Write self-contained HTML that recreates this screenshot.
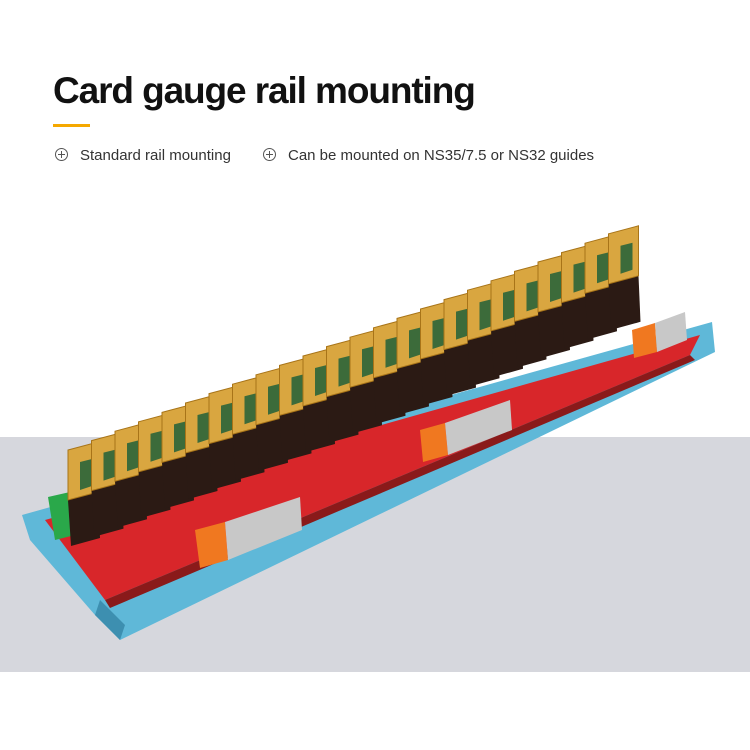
<!DOCTYPE html>
<html><head><style>
body{margin:0;width:750px;height:750px;background:#fff;position:relative;overflow:hidden;font-family:"Liberation Sans",sans-serif}
.band{position:absolute;left:0;top:437px;width:750px;height:235px;background:#d6d7dd}
h1{position:absolute;left:53px;top:70px;margin:0;font-size:37px;font-weight:900;letter-spacing:-1.1px;color:#111}
.ul{position:absolute;left:53px;top:124px;width:37px;height:3px;background:#f5a800}
.b{position:absolute;top:147px;font-size:15px;color:#333}
.c{display:inline-block;width:11px;height:11px;border:1px solid #555;border-radius:50%;position:relative;vertical-align:-1px;margin-right:12px}
.c:before{content:"";position:absolute;left:2px;top:5px;width:7px;height:1px;background:#555}
.c:after{content:"";position:absolute;left:5px;top:2px;width:1px;height:7px;background:#555}
svg{position:absolute;left:0;top:0}
</style></head><body>
<div class="band"></div>
<h1>Card gauge rail mounting</h1>
<div class="ul"></div>
<div class="b" style="left:55px"><span class="c"></span>Standard rail mounting</div>
<div class="b" style="left:263px"><span class="c"></span>Can be mounted on NS35/7.5 or NS32 guides</div>
<svg width="750" height="750">
<defs>
<g id="rl">
<polygon points="0,50 30,42 32,88 3,96" fill="#2b1a14"/>
<polygon points="0,0 30,-8 30,42 0,50" fill="#d9a640" stroke="#a87418" stroke-width="1"/>
<polygon points="12,12 24,9 24,36 12,40" fill="#3c6b3a"/>
</g>
</defs>
<polygon points="22,515 712,322 715,352 120,640 95,615 30,540" fill="#5fb8d8"/>
<polygon points="95,615 120,640 125,625 100,600" fill="#3d8fb0"/>
<polygon points="45,520 700,335 690,355 105,600" fill="#d8262a"/>
<polygon points="105,600 690,355 695,360 110,608" fill="#8a1a1a"/>
<polygon points="48,497 70,492 75,535 55,540" fill="#2aa84a"/>
<use href="#rl" transform="translate(68,450)"/>
<use href="#rl" transform="translate(91.5,440.6)"/>
<use href="#rl" transform="translate(115,431.2)"/>
<use href="#rl" transform="translate(138.5,421.8)"/>
<use href="#rl" transform="translate(162,412.4)"/>
<use href="#rl" transform="translate(185.5,403)"/>
<use href="#rl" transform="translate(209,393.6)"/>
<use href="#rl" transform="translate(232.5,384.2)"/>
<use href="#rl" transform="translate(256,374.8)"/>
<use href="#rl" transform="translate(279.5,365.4)"/>
<use href="#rl" transform="translate(303,356)"/>
<use href="#rl" transform="translate(326.5,346.6)"/>
<use href="#rl" transform="translate(350,337.2)"/>
<use href="#rl" transform="translate(373.5,327.8)"/>
<use href="#rl" transform="translate(397,318.4)"/>
<use href="#rl" transform="translate(420.5,309)"/>
<use href="#rl" transform="translate(444,299.6)"/>
<use href="#rl" transform="translate(467.5,290.2)"/>
<use href="#rl" transform="translate(491,280.8)"/>
<use href="#rl" transform="translate(514.5,271.4)"/>
<use href="#rl" transform="translate(538,262)"/>
<use href="#rl" transform="translate(561.5,252.6)"/>
<use href="#rl" transform="translate(585,243.2)"/>
<use href="#rl" transform="translate(608.5,233.8)"/>
<polygon points="195,530 225,522 228,560 200,568" fill="#f07820"/>
<polygon points="225,522 300,497 302,530 228,560" fill="#c8c8c8"/>
<polygon points="420,430 445,423 448,455 423,462" fill="#f07820"/>
<polygon points="445,423 510,400 512,430 448,455" fill="#c8c8c8"/>
<polygon points="632,330 655,323 657,352 634,358" fill="#f07820"/>
<polygon points="655,323 685,312 687,340 657,352" fill="#c8c8c8"/>
</svg>
</body></html>
